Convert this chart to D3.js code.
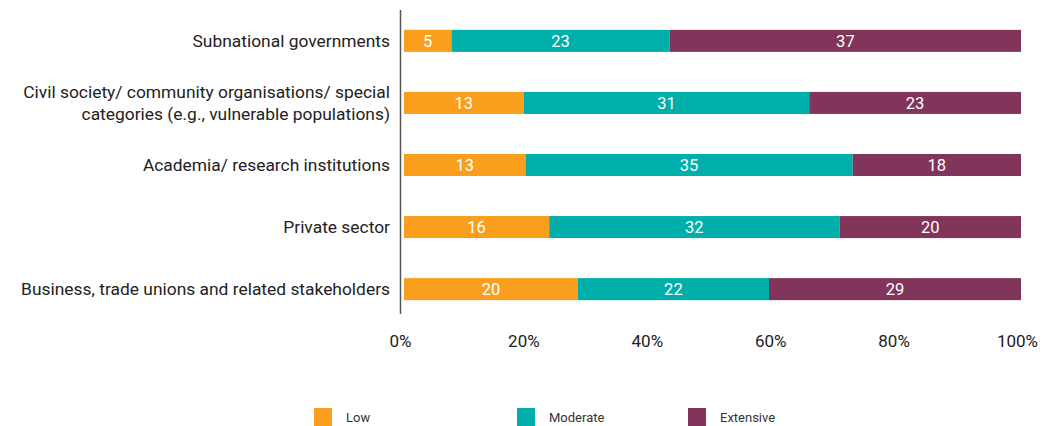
<!DOCTYPE html>
<html>
<head>
<meta charset="utf-8">
<script src="https://cdn.jsdelivr.net/npm/d3@7"></script>
<style>
  html, body { margin: 0; padding: 0; background: #fff; }
  svg { display: block; font-family: Roboto, "Noto Sans", sans-serif; }
</style>
</head>
<body>
<svg id="chart" width="1056" height="426"></svg>
<script>
// Stakeholder groups, top to bottom
const categories = [
  "Subnational governments",
  "Civil society/ community organisations/ special\ncategories (e.g., vulnerable populations)",
  "Academia/ research institutions",
  "Private sector",
  "Business, trade unions and related stakeholders"
];

// Response counts per level of engagement
const seriesNames = ["Low", "Moderate", "Extensive"];
const lowValues = [5, 13, 13, 16, 20];
const moderateValues = [23, 31, 35, 32, 22];
const extensiveValues = [37, 23, 18, 20, 29];

const tickValues = [0, 20, 40, 60, 80, 100];
const colors = ["#F99F1D", "#00AFA9", "#82355A"];

// Build rows and convert to shares of each row total (100% stacked)
const rows = categories.map((c, i) => {
  const vals = [lowValues[i], moderateValues[i], extensiveValues[i]];
  const total = d3.sum(vals);
  const row = { category: c };
  seriesNames.forEach((s, j) => {
    row[s] = vals[j] / total * 100;
    row[s + "_n"] = vals[j];
  });
  return row;
});

const stacked = d3.stack().keys(seriesNames)(rows);

const svg = d3.select("#chart");

const x = d3.scaleLinear().domain([0, 100]).range([404, 1021]);
const y = d3.scaleBand().domain(categories).range([10, 320]).paddingInner(0.645).paddingOuter(0.32);

// Bars
const layers = svg.append("g").selectAll("g")
  .data(stacked)
  .join("g")
  .attr("fill", (d, i) => colors[i]);

layers.selectAll("rect")
  .data(d => d.map(seg => Object.assign(seg, { key: d.key })))
  .join("rect")
  .attr("x", d => x(d[0]))
  .attr("y", d => y(d.data.category))
  .attr("width", d => x(d[1]) - x(d[0]))
  .attr("height", y.bandwidth());

// Value labels inside segments
layers.selectAll("text")
  .data(d => d)
  .join("text")
  .attr("x", d => (x(d[0]) + x(d[1])) / 2)
  .attr("y", d => y(d.data.category) + y.bandwidth() / 2)
  .attr("dy", "0.36em")
  .attr("text-anchor", "middle")
  .attr("fill", "#ffffff")
  .attr("font-size", 16.5)
  .text(d => d.data[d.key + "_n"]);

// Vertical category axis line
svg.append("line")
  .attr("x1", 400.5).attr("x2", 400.5)
  .attr("y1", 10).attr("y2", 314)
  .attr("stroke", "#555")
  .attr("stroke-width", 1.5);

// Category labels
const catLabels = svg.append("g").selectAll("text")
  .data(categories)
  .join("text")
  .attr("text-anchor", "end")
  .attr("font-size", 17.4)
  .attr("fill", "#222")
  .attr("x", 390)
  .attr("y", d => y(d) + y.bandwidth() / 2);

catLabels.each(function (d) {
  const lines = d.split("\n");
  const t = d3.select(this);
  const lh = 22;
  lines.forEach((ln, k) => {
    t.append("tspan")
      .attr("x", 390)
      .attr("y", y(d) + y.bandwidth() / 2 + (k - (lines.length - 1) / 2) * lh)
      .attr("dy", "0.36em")
      .text(ln);
  });
});

// Percentage axis
const xAxis = d3.axisBottom(x)
  .tickValues(tickValues)
  .tickSize(0)
  .tickPadding(0)
  .tickFormat(d => d + "%");

const ax = svg.append("g")
  .attr("transform", "translate(-4,335)")
  .call(xAxis);
ax.select(".domain").remove();
ax.selectAll("text")
  .attr("font-family", "Roboto, 'Noto Sans', sans-serif")
  .attr("font-size", 17)
  .attr("fill", "#222")
  .attr("dy", "0.71em");

// Legend
const legendX = [314, 517, 688];
const legend = svg.append("g").selectAll("g")
  .data(seriesNames)
  .join("g")
  .attr("transform", (d, i) => `translate(${legendX[i]},408)`);

legend.append("rect")
  .attr("width", 18)
  .attr("height", 18)
  .attr("fill", (d, i) => colors[i]);

legend.append("text")
  .attr("x", 32)
  .attr("y", 9)
  .attr("dy", "0.36em")
  .attr("font-size", 13)
  .attr("fill", "#333")
  .text(d => d);
</script>
</body>
</html>
